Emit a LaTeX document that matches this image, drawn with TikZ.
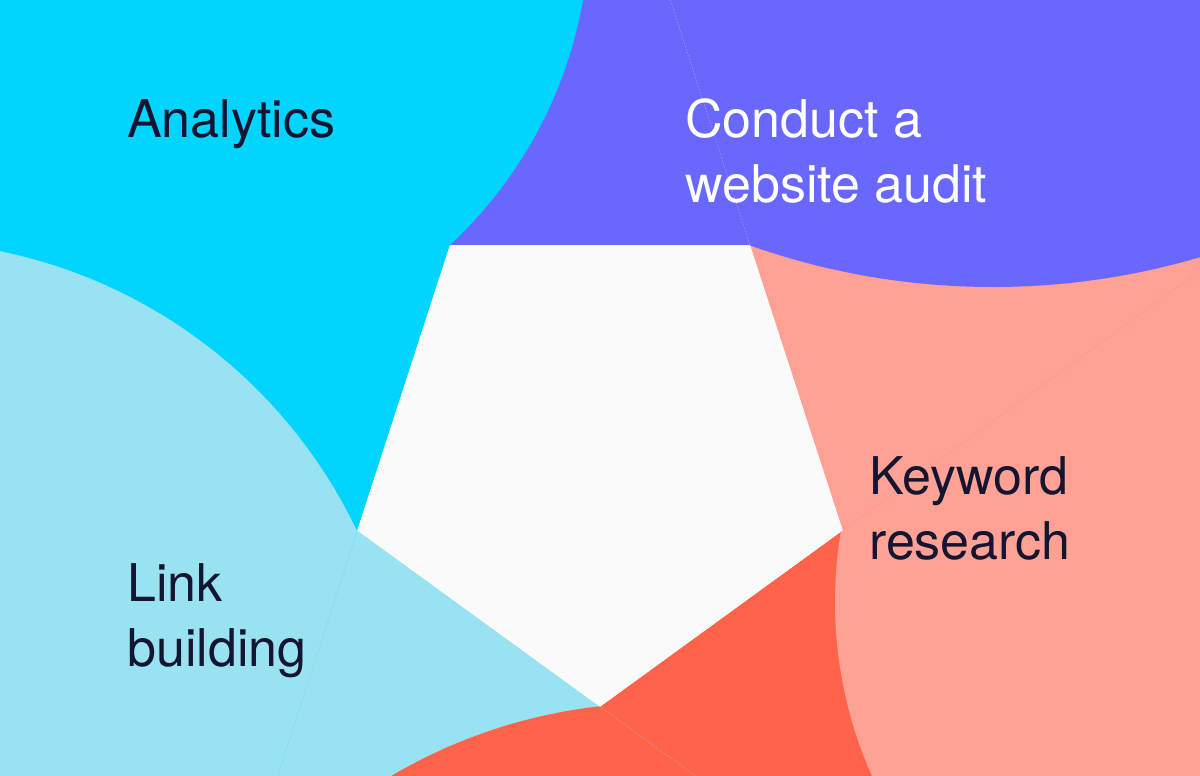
\documentclass[tikz,border=0pt]{standalone}
\usepackage{fontspec}
\setmainfont{TeX Gyre Heros}

\definecolor{skycyan}{RGB}{0,212,255}
\definecolor{auditpurple}{RGB}{106,103,254}
\definecolor{salmonpink}{RGB}{255,161,148}
\definecolor{tomatored}{RGB}{255,99,73}
\definecolor{paleblue}{RGB}{153,226,241}
\definecolor{paper}{RGB}{250,250,250}
\definecolor{ink}{RGB}{20,21,48}

\tikzset{
    stagetext/.style={anchor=base west, inner sep=0pt, align=left, text=ink,
        font=\fontsize{52}{65}\selectfont}
}

\begin{document}
\begin{tikzpicture}[x=1pt, y=-1pt]

    \fill[paper] (0,0) rectangle (1200,776);
    \useasboundingbox (0,0) rectangle (1200,776);

    % pentagon corners
    \coordinate (p1) at (450,245);
    \coordinate (p2) at (750,245);
    \coordinate (p3) at (842.7,530.4);
    \coordinate (p4) at (600,706.7);
    \coordinate (p5) at (357.3,530.4);

    % edges carried on to the border
    \coordinate (a0) at (670.4,0);
    \coordinate (b0) at (1200,270.9);
    \coordinate (c0) at (695.4,776);
    \coordinate (d0) at (277.5,776);
    \coordinate (e0) at (0,245);

    % top
    \begin{scope}
        \clip (e0) -- (p1) -- (p2) -- (a0) -- (0,0) -- cycle;
        \fill[auditpurple] (0,0) rectangle (1200,776);
        \fill[skycyan] (151.5,-75.6) circle (438);
    \end{scope}

    % right
    \begin{scope}
        \clip (p2) -- (p3) -- (b0) -- (1200,0) -- (a0) -- cycle;
        \fill[salmonpink] (0,0) rectangle (1200,776);
        \fill[auditpurple] (993,-441) circle (728);
    \end{scope}

    % bottom right
    \begin{scope}
        \clip (p3) -- (p4) -- (c0) -- (1200,776) -- (b0) -- cycle;
        \fill[tomatored] (0,0) rectangle (1200,776);
        \fill[salmonpink] (1262,602) circle (427);
    \end{scope}

    % bottom left
    \begin{scope}
        \clip (p4) -- (p5) -- (d0) -- (c0) -- cycle;
        \fill[paleblue] (0,0) rectangle (1200,776);
        \fill[tomatored] (659,1230) circle (527);
    \end{scope}

    % left
    \begin{scope}
        \clip (p5) -- (p1) -- (e0) -- (0,776) -- (d0) -- cycle;
        \fill[skycyan] (0,0) rectangle (1200,776);
        \fill[paleblue] (-102,749) circle (508);
    \end{scope}

    \fill[paper] (p1) -- (p2) -- (p3) -- (p4) -- (p5) -- cycle;

    % base is the last line for the two-line ones
    \node[stagetext] (analytics) at (127,137) {Analytics};
    \node[stagetext, text=white] (audit) at (685,202) {Conduct a\\website audit};
    \node[stagetext] (keyword) at (869,559) {Keyword\\research};
    \node[stagetext] (linkbuild) at (127,666) {Link\\building};

\end{tikzpicture}
\end{document}
